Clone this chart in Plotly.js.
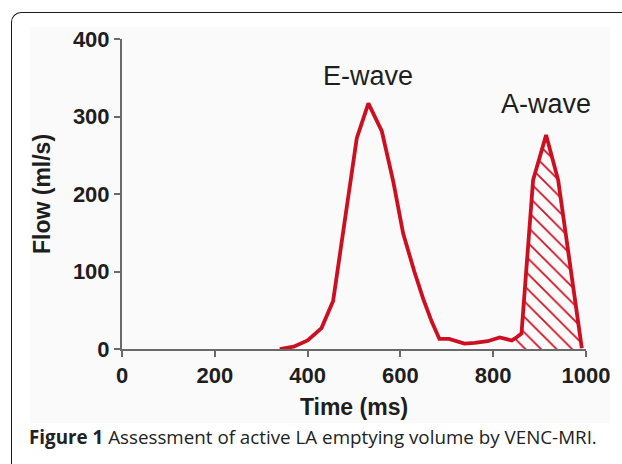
<!DOCTYPE html>
<html>
<head>
<meta charset="utf-8">
<script src="https://cdn.plot.ly/plotly-3.0.1.min.js"></script>
<style>
  html, body { margin: 0; padding: 0; background: #ffffff; }
  #wrap { position: relative; width: 622px; height: 464px; overflow: hidden; }
  #frame { position: absolute; left: 11px; top: 12px; width: 640px; height: 480px;
           border-top: 1.5px solid #1a1a1a; border-left: 1.5px solid #1a1a1a;
           border-top-left-radius: 10px; box-sizing: border-box; }
  #chart { position: absolute; left: 0; top: 0; width: 622px; height: 464px; }
</style>
</head>
<body>
<div id="wrap">
  <div id="frame"></div>
  <div id="chart"></div>
</div>
<script>
// Time (ms) and flow (ml/s)
const timeMs = [340, 370, 400, 430, 455, 480, 506, 531, 560, 585, 606, 630, 649, 667, 684, 705, 738, 760, 788, 814, 840, 848, 861, 886, 914, 940, 991];
const flowMl = [0, 3, 11, 27, 62, 166, 272, 317, 281, 215, 149, 100, 65, 36, 13, 13, 7, 8, 10, 15, 11, 14, 20, 218, 276, 218, 1];
// A-wave (active emptying) segment starts here
const aWaveStart = 848;
const xTicks = [0, 200, 400, 600, 800, 1000];
const yTicks = [0, 100, 200, 300, 400];
const labels = { eWave: 'E-wave', aWave: 'A-wave', xTitle: 'Time (ms)', yTitle: 'Flow (ml/s)' };
const captionBold = 'Figure 1';
const captionText = 'Assessment of active LA emptying volume by VENC-MRI.';

const iA = timeMs.indexOf(aWaveStart);
const aTime = timeMs.slice(iA);
const aFlow = flowMl.slice(iA);

// peaks for labels
function peakIn(lo, hi) {
  let best = -1, bi = 0;
  for (let i = 0; i < timeMs.length; i++) {
    if (timeMs[i] >= lo && timeMs[i] <= hi && flowMl[i] > best) { best = flowMl[i]; bi = i; }
  }
  return { x: timeMs[bi], y: flowMl[bi] };
}
const eP = peakIn(0, aWaveStart);
const aP = peakIn(aWaveStart, 1000);

const red = '#cc1022';

const traces = [
  {
    x: aTime, y: aFlow, type: 'scatter', mode: 'lines',
    fill: 'tozeroy', fillcolor: 'rgba(0,0,0,0)',
    fillpattern: { shape: '\\', fgcolor: red, bgcolor: 'rgba(255,255,255,0)', size: 11, solidity: 0.16 },
    line: { width: 0, color: red }, hoverinfo: 'skip', cliponaxis: false
  },
  {
    x: timeMs, y: flowMl, type: 'scatter', mode: 'lines',
    line: { color: red, width: 3.8 }, cliponaxis: false
  }
];

const tickFont = { family: 'Liberation Sans, Arial, sans-serif', size: 22, color: '#1e1e1e', weight: 'bold' };
const titleFont = { family: 'Liberation Sans, Arial, sans-serif', size: 23, color: '#1e1e1e', weight: 'bold' };

const layout = {
  width: 622, height: 464,
  margin: { l: 122, r: 36, t: 39, b: 115 },
  paper_bgcolor: 'rgba(0,0,0,0)', plot_bgcolor: 'rgba(0,0,0,0)',
  showlegend: false,
  xaxis: {
    range: [0, 1000], tickvals: xTicks, ticktext: xTicks.map(String),
    showgrid: false, zeroline: false, showline: true, linecolor: '#6a6a6a', linewidth: 2,
    ticks: 'outside', ticklen: 6, tickwidth: 2, tickcolor: '#6a6a6a',
    tickfont: tickFont, automargin: false,
    title: { text: labels.xTitle, font: titleFont, standoff: 11 }
  },
  yaxis: {
    range: [0, 400], tickvals: yTicks, ticktext: yTicks.map(String),
    showgrid: false, zeroline: false, showline: true, linecolor: '#6a6a6a', linewidth: 2,
    ticks: 'outside', ticklen: 6, tickwidth: 2, tickcolor: '#6a6a6a',
    tickfont: tickFont, automargin: false,
    title: { text: labels.yTitle, font: titleFont, standoff: 16 }
  },
  shapes: [
    { type: 'rect', xref: 'paper', yref: 'paper', layer: 'below',
      x0: -0.198, x1: 1.052, y0: -0.239, y1: 1.039,
      fillcolor: '#fafafa', line: { width: 0 } }
  ],
  annotations: [
    { x: eP.x, y: eP.y, xref: 'x', yref: 'y', text: labels.eWave, showarrow: false,
      xanchor: 'center', yanchor: 'bottom', yshift: 10,
      font: { family: 'Liberation Sans, Arial, sans-serif', size: 27, color: '#1e1e1e' } },
    { x: aP.x, y: aP.y, xref: 'x', yref: 'y', text: labels.aWave, showarrow: false,
      xanchor: 'center', yanchor: 'bottom', yshift: 14,
      font: { family: 'Liberation Sans, Arial, sans-serif', size: 27, color: '#1e1e1e' } },
    { x: -0.2047, y: -0.284, xref: 'paper', yref: 'paper', showarrow: false,
      xanchor: 'left', yanchor: 'middle',
      text: '<b>' + captionBold + '</b> ' + captionText,
      font: { family: 'Open Sans, sans-serif', size: 18.8, color: '#222222' } }
  ]
};

Plotly.newPlot('chart', traces, layout, { staticPlot: true, displayModeBar: false });
</script>
</body>
</html>
